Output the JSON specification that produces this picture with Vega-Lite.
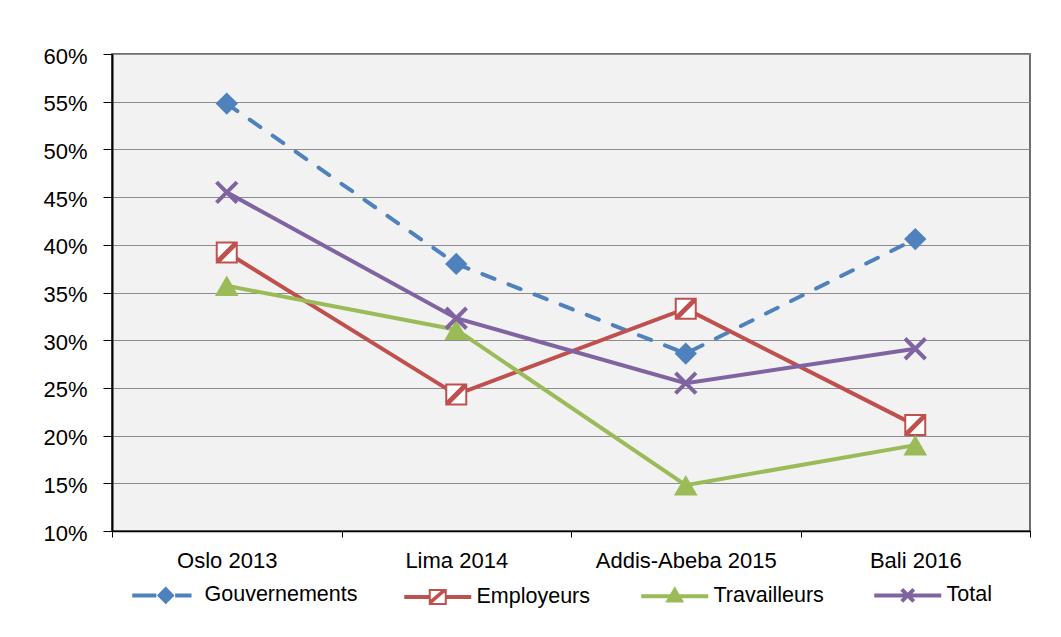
{
  "$schema": "https://vega.github.io/schema/vega-lite/v6.json",
  "width": 918,
  "height": 477,
  "autosize": {"type": "none"},
  "padding": {"left": 112, "top": 54, "right": 31, "bottom": 106},
  "background": "white",
  "config": {
    "font": "Liberation Sans",
    "view": {"fill": "#f2f2f2", "stroke": "#404040", "strokeWidth": 1.5},
    "axis": {
      "labelFont": "Liberation Sans",
      "labelFontSize": 22,
      "labelColor": "#000000",
      "labelLimit": 400,
      "domainColor": "#000000",
      "tickColor": "#000000",
      "title": null
    }
  },
  "data": {
    "values": [
      {"lieu": "Oslo 2013", "serie": "Gouvernements", "valeur": 0.548},
      {"lieu": "Lima 2014", "serie": "Gouvernements", "valeur": 0.380},
      {"lieu": "Addis-Abeba 2015", "serie": "Gouvernements", "valeur": 0.286},
      {"lieu": "Bali 2016", "serie": "Gouvernements", "valeur": 0.406},
      {"lieu": "Oslo 2013", "serie": "Employeurs", "valeur": 0.392},
      {"lieu": "Lima 2014", "serie": "Employeurs", "valeur": 0.243},
      {"lieu": "Addis-Abeba 2015", "serie": "Employeurs", "valeur": 0.333},
      {"lieu": "Bali 2016", "serie": "Employeurs", "valeur": 0.211},
      {"lieu": "Oslo 2013", "serie": "Travailleurs", "valeur": 0.357},
      {"lieu": "Lima 2014", "serie": "Travailleurs", "valeur": 0.311},
      {"lieu": "Addis-Abeba 2015", "serie": "Travailleurs", "valeur": 0.148},
      {"lieu": "Bali 2016", "serie": "Travailleurs", "valeur": 0.190},
      {"lieu": "Oslo 2013", "serie": "Total", "valeur": 0.455},
      {"lieu": "Lima 2014", "serie": "Total", "valeur": 0.323},
      {"lieu": "Addis-Abeba 2015", "serie": "Total", "valeur": 0.255},
      {"lieu": "Bali 2016", "serie": "Total", "valeur": 0.291}
    ]
  },
  "encoding": {
    "x": {
      "field": "lieu",
      "type": "nominal",
      "sort": ["Oslo 2013", "Lima 2014", "Addis-Abeba 2015", "Bali 2016"],
      "scale": {"type": "band", "paddingInner": 0, "paddingOuter": 0},
      "axis": {
        "tickBand": "extent",
        "tickSize": 6,
        "tickWidth": 1,
        "labelPadding": 13,
        "labelAngle": 0,
        "labelLimit": 400,
        "domainWidth": 1.5,
        "grid": false,
        "title": null
      }
    },
    "y": {
      "field": "valeur",
      "type": "quantitative",
      "scale": {"domain": [0.1, 0.6], "nice": false, "zero": false},
      "axis": {
        "values": [0.1, 0.15, 0.2, 0.25, 0.3, 0.35, 0.4, 0.45, 0.5, 0.55, 0.6],
        "format": ".0%",
        "tickSize": 9,
        "tickWidth": 1,
        "labelPadding": 16,
        "labelOffset": 2,
        "domainWidth": 2,
        "grid": true,
        "gridColor": "#8c8c8c",
        "gridWidth": 1.2,
        "title": null
      }
    }
  },
  "layer": [
    {
      "transform": [{"filter": "datum.serie === 'Gouvernements'"}],
      "mark": {"type": "line", "strokeWidth": 4, "strokeDash": [13, 15], "strokeCap": "round"},
      "encoding": {
        "color": {
          "field": "serie",
          "type": "nominal",
          "scale": {
            "domain": ["Gouvernements", "Employeurs", "Travailleurs", "Total"],
            "range": ["#4f81bd", "#c0504d", "#9bbb59", "#8064a2"]
          },
          "legend": {
            "orient": "none",
            "legendX": 20,
            "legendY": 530.5,
            "direction": "horizontal",
            "columns": 4,
            "title": null,
            "padding": 0,
            "columnPadding": 42,
            "labelFont": "Liberation Sans",
            "labelFontSize": 21.5,
            "labelColor": "#000000",
            "labelOffset": 51,
            "labelLimit": 300,
            "symbolSize": 64,
            "symbolStrokeWidth": 4,
            "encode": {
              "symbols": {
                "update": {
                  "shape": {"signal": "datum.value === 'Gouvernements' ? 'M-2.625,0H3.4M8.1,0H12.2M4.25,0L5.75,-1.5L7.25,0L5.75,1.5Z' : datum.value === 'Employeurs' ? 'M-2.625,-0.25H3.75M-2.625,0.25H3.75M7.75,-0.25H14.125M7.75,0.25H14.125M3.75,-1.75H7.75V1.75H3.75ZM3.75,1.75L7.75,-1.75M3.75,1.25L7.25,-1.75' : datum.value === 'Travailleurs' ? 'M-2.625,0H14.125M5.75,-1.5L7.25,1.1L4.25,1.1Z' : 'M-2.625,0H14.125M4.25,-1.5L7.25,1.5M4.25,1.5L7.25,-1.5'"},
                  "fill": {"signal": "datum.value === 'Gouvernements' ? '#4f81bd' : datum.value === 'Employeurs' ? '#ffffff' : datum.value === 'Travailleurs' ? '#9bbb59' : '#8064a2'"},
                  "stroke": {"signal": "datum.value === 'Gouvernements' ? '#4f81bd' : datum.value === 'Employeurs' ? '#c0504d' : datum.value === 'Travailleurs' ? '#9bbb59' : '#8064a2'"},
                  "strokeWidth": {"signal": "datum.value === 'Employeurs' ? 2 : 4"},
                  "strokeDash": {"value": []},
                  "opacity": {"value": 1}
                }
              }
            }
          }
        }
      }
    },
    {
      "transform": [{"filter": "datum.serie === 'Gouvernements'"}],
      "mark": {"type": "point", "shape": "diamond", "size": 500, "filled": true, "color": "#4f81bd", "opacity": 1}
    },
    {
      "transform": [{"filter": "datum.serie === 'Employeurs'"}],
      "mark": {"type": "line", "strokeWidth": 4},
      "encoding": {"color": {"field": "serie", "type": "nominal"}}
    },
    {
      "transform": [{"filter": "datum.serie === 'Employeurs'"}],
      "mark": {
        "type": "point",
        "shape": "M-1,-1H1V1H-1ZM-1,1L1,-1M-0.8,1L1,-0.8M-1,0.8L0.8,-1",
        "size": 400,
        "filled": true,
        "fill": "#ffffff",
        "stroke": "#c0504d",
        "strokeWidth": 2,
        "opacity": 1
      }
    },
    {
      "transform": [{"filter": "datum.serie === 'Travailleurs'"}],
      "mark": {"type": "line", "strokeWidth": 4},
      "encoding": {"color": {"field": "serie", "type": "nominal"}}
    },
    {
      "transform": [{"filter": "datum.serie === 'Travailleurs'"}],
      "mark": {"type": "point", "shape": "triangle-up", "size": 560, "filled": true, "color": "#9bbb59", "opacity": 1}
    },
    {
      "transform": [{"filter": "datum.serie === 'Total'"}],
      "mark": {"type": "line", "strokeWidth": 4},
      "encoding": {"color": {"field": "serie", "type": "nominal"}}
    },
    {
      "transform": [{"filter": "datum.serie === 'Total'"}],
      "mark": {
        "type": "point",
        "shape": "M-1,-1L1,1M-1,1L1,-1",
        "size": 420,
        "filled": false,
        "color": "#8064a2",
        "strokeWidth": 4,
        "opacity": 1
      }
    }
  ]
}
